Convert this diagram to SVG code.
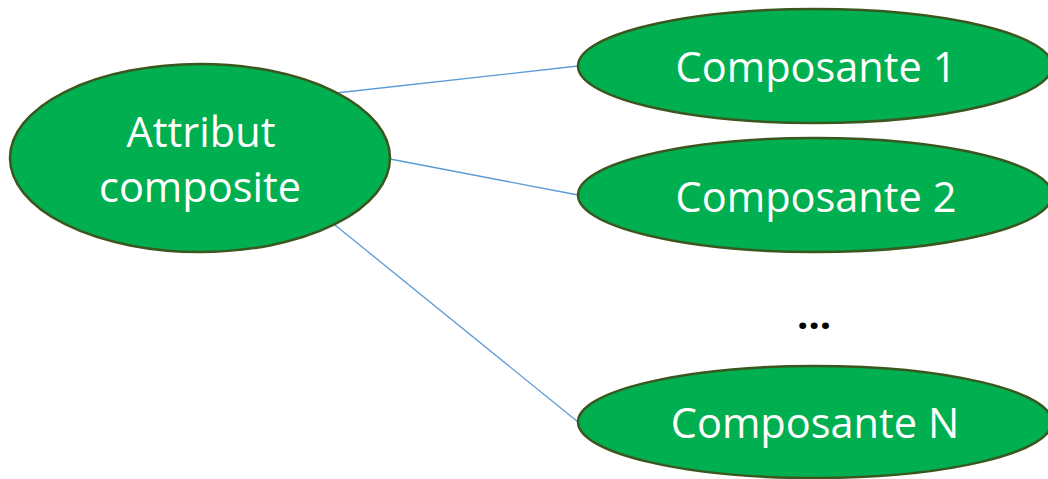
<svg xmlns="http://www.w3.org/2000/svg" width="1048" height="479" viewBox="0 0 1048 479">
<style>
.node{fill:#00B050;stroke:#3B5720;stroke-width:2.5}
.lbl{font-family:"Open Sans","Liberation Sans",sans-serif;font-size:41.5px;fill:#FFFFFF;text-anchor:middle}
.edge{stroke:#5B9BD5;stroke-width:1.3;fill:none}
</style>
<rect width="1048" height="479" fill="#FFFFFF"/>
<g id="connectors">
<line class="edge" x1="336" y1="93" x2="578" y2="66"/>
<line class="edge" x1="390" y1="159" x2="578" y2="195"/>
<line class="edge" x1="335" y1="225" x2="578" y2="422"/>
</g>
<g id="attribut">
<ellipse class="node" cx="200" cy="158" rx="190" ry="94"/>
<text class="lbl" x="201" y="147">Attribut</text>
<text class="lbl" x="200" y="202">composite</text>
</g>
<g id="composante1">
<ellipse class="node" cx="815" cy="66" rx="237" ry="57"/>
<text class="lbl" x="816" y="82">Composante 1</text>
</g>
<g id="composante2">
<ellipse class="node" cx="815" cy="195" rx="237" ry="57"/>
<text class="lbl" x="816" y="212">Composante 2</text>
</g>
<g id="ellipsis">
<text x="814" y="329" font-family="Open Sans, Liberation Sans, sans-serif" font-size="40" font-weight="bold" fill="#000000" text-anchor="middle">…</text>
</g>
<g id="composanteN">
<ellipse class="node" cx="815" cy="422" rx="237" ry="56"/>
<text class="lbl" x="815" y="438">Composante N</text>
</g>
</svg>
